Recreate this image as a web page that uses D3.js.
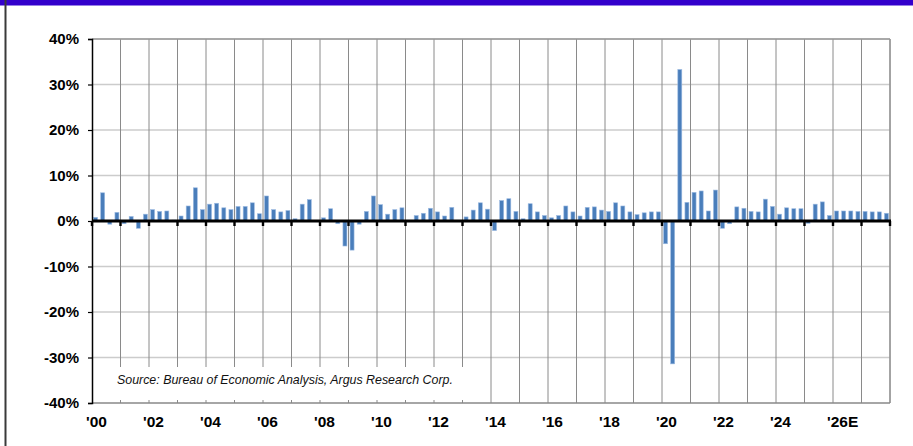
<!DOCTYPE html>
<html lang="en">
<head>
<meta charset="utf-8">
<title>GDP growth</title>
<script src="https://cdn.jsdelivr.net/npm/d3@7/dist/d3.min.js"></script>
<style>
  html, body { margin: 0; padding: 0; background: #fff; }
  svg { display: block; }
  text { font-family: "Liberation Sans", Arial, Helvetica, sans-serif; }
</style>
</head>
<body>
<svg id="chart" width="913" height="446"></svg>
<script>

// quarterly real GDP growth, annualized %, 2000Q1 .. 2027Q4
const years = d3.range(2000, 2028);
const quarters = ['Q1', 'Q2', 'Q3', 'Q4'];
const growth = [
  0.8, 6.2, -0.7, 1.9,    // 2000
  -0.6, 1.0, -1.6, 1.5,   // 2001
  2.5, 2.1, 2.2, 0.2,     // 2002
  1.1, 3.3, 7.3, 2.5,     // 2003
  3.7, 3.9, 2.9, 2.5,     // 2004
  3.2, 3.2, 4.0, 1.6,     // 2005
  5.5, 2.5, 2.0, 2.3,     // 2006
  0.5, 3.7, 4.7, 0.1,     // 2007
  0.7, 2.7, -0.6, -5.5,   // 2008
  -6.4, -0.7, 2.1, 5.5,   // 2009
  3.6, 1.5, 2.5, 2.9,     // 2010
  -0.1, 1.2, 1.7, 2.8,    // 2011
  2.0, 1.1, 3.0, 0.1,     // 2012
  0.9, 2.4, 4.0, 2.6,     // 2013
  -2.1, 4.5, 4.9, 2.1,    // 2014
  0.5, 3.8, 2.0, 1.2,     // 2015
  0.7, 1.2, 3.3, 2.0,     // 2016
  1.1, 3.0, 3.1, 2.4,     // 2017
  2.1, 4.0, 3.3, 2.0,     // 2018
  1.4, 1.8, 2.0, 2.0,     // 2019
  -5.0, -31.4, 33.3, 4.1, // 2020
  6.3, 6.6, 2.2, 6.8,     // 2021
  -1.6, -0.6, 3.1, 2.8,   // 2022
  2.1, 2.0, 4.8, 3.2,     // 2023
  1.5, 2.9, 2.7, 2.7,     // 2024
  -0.5, 3.7, 4.2, 1.2,    // 2025
  2.2, 2.2, 2.2, 2.1,     // 2026E
  2.1, 2.0, 2.0, 1.7      // 2027E
];
const yTicks = [40, 30, 20, 10, 0, -10, -20, -30, -40];
const xLabelYears = [2000, 2002, 2004, 2006, 2008, 2010, 2012, 2014, 2016, 2018, 2020, 2022, 2024, 2026];
const xLabels = ["'00", "'02", "'04", "'06", "'08", "'10", "'12", "'14", "'16", "'18", "'20", "'22", "'24", "'26E"];
const sourceNote = 'Source: Bureau of Economic Analysis, Argus Research Corp.';

const data = [];
years.forEach(function(yr, i) {
  quarters.forEach(function(q, j) {
    data.push({key: yr + q, value: growth[i * 4 + j]});
  });
});

const plot = {left: 92, right: 890, top: 39, bottom: 403};

const svg = d3.select('#chart');

const x = d3.scaleLinear().domain([2000, 2028]).range([plot.left, plot.right]);
const xBand = d3.scaleBand()
  .domain(data.map(function(d) { return d.key; }))
  .range([plot.left, plot.right])
  .paddingInner(0.44)
  .paddingOuter(0.22);
const y = d3.scaleLinear().domain([-40, 40]).range([plot.bottom, plot.top]);

// header band and left rule
svg.append('rect').attr('x', 0).attr('y', 0).attr('width', 913).attr('height', 5.5).attr('fill', '#3300cc');
svg.append('line').attr('x1', 5.5).attr('x2', 5.5).attr('y1', 0).attr('y2', 446)
  .attr('stroke', '#3a3a3a').attr('stroke-width', 2);

// horizontal grid
svg.append('g')
  .selectAll('line')
  .data(yTicks.filter(function(t) { return t !== 0 && t !== -40; }))
  .enter().append('line')
  .attr('x1', plot.left).attr('x2', plot.right)
  .attr('y1', function(d) { return y(d); })
  .attr('y2', function(d) { return y(d); })
  .attr('stroke', '#cccccc').attr('stroke-width', 1.5);

// vertical grid, one per year
svg.append('g')
  .selectAll('line')
  .data(d3.range(2001, 2029))
  .enter().append('line')
  .attr('x1', function(d) { return x(d); })
  .attr('x2', function(d) { return x(d); })
  .attr('y1', plot.top).attr('y2', plot.bottom)
  .attr('stroke', '#8a8a8a').attr('stroke-width', 1);

// bars
svg.append('g')
  .selectAll('rect')
  .data(data)
  .enter().append('rect')
  .attr('x', function(d) { return xBand(d.key); })
  .attr('width', xBand.bandwidth())
  .attr('y', function(d) { return y(Math.max(0, d.value)); })
  .attr('height', function(d) { return Math.abs(y(d.value) - y(0)); })
  .attr('fill', '#4a7ebb')
  .attr('stroke', '#9dbbe2')
  .attr('stroke-width', 0.6);

// source box covers the grid in the lower left
svg.append('rect').attr('x', plot.left + 1).attr('y', 367).attr('width', 370).attr('height', 33).attr('fill', '#fff');
svg.append('text')
  .attr('x', 117).attr('y', 384)
  .attr('font-size', 12.4).attr('font-style', 'italic').attr('fill', '#111')
  .text(sourceNote);

// frame
svg.append('line').attr('x1', plot.left).attr('x2', plot.right).attr('y1', plot.top).attr('y2', plot.top)
  .attr('stroke', '#999').attr('stroke-width', 1.5);
svg.append('line').attr('x1', plot.right).attr('x2', plot.right).attr('y1', plot.top).attr('y2', plot.bottom)
  .attr('stroke', '#999').attr('stroke-width', 1.5);
svg.append('line').attr('x1', plot.left).attr('x2', plot.right).attr('y1', plot.bottom).attr('y2', plot.bottom)
  .attr('stroke', '#888').attr('stroke-width', 1.5);

// y axis
const yAxis = svg.append('g')
  .attr('transform', 'translate(' + plot.left + ',0)')
  .call(d3.axisLeft(y).tickValues(yTicks).tickSize(4).tickPadding(9)
    .tickFormat(function(d) { return d + '%'; }));
yAxis.select('.domain').attr('stroke', '#000').attr('stroke-width', 1.5);
yAxis.selectAll('.tick line').attr('stroke', '#000').attr('stroke-width', 1.2);
yAxis.selectAll('.tick text')
  .attr('font-family', '"Liberation Sans", Arial, sans-serif')
  .attr('font-size', 15).attr('font-weight', 'bold').attr('fill', '#000');

// zero line with year ticks
svg.append('g')
  .selectAll('rect')
  .data(d3.range(2000, 2029))
  .enter().append('rect')
  .attr('x', function(d) { return x(d) - 1.2; })
  .attr('y', y(0))
  .attr('width', 2.4).attr('height', 5)
  .attr('fill', '#000');
svg.append('line').attr('x1', plot.left).attr('x2', plot.right + 1).attr('y1', y(0)).attr('y2', y(0))
  .attr('stroke', '#000').attr('stroke-width', 3);

// x labels
svg.append('g')
  .selectAll('text')
  .data(xLabelYears)
  .enter().append('text')
  .attr('x', function(d) { return x(d) - 6; })
  .attr('y', 427)
  .attr('font-size', 15.5).attr('font-weight', 'bold').attr('fill', '#000')
  .text(function(d, i) { return xLabels[i]; });

</script>
</body>
</html>
